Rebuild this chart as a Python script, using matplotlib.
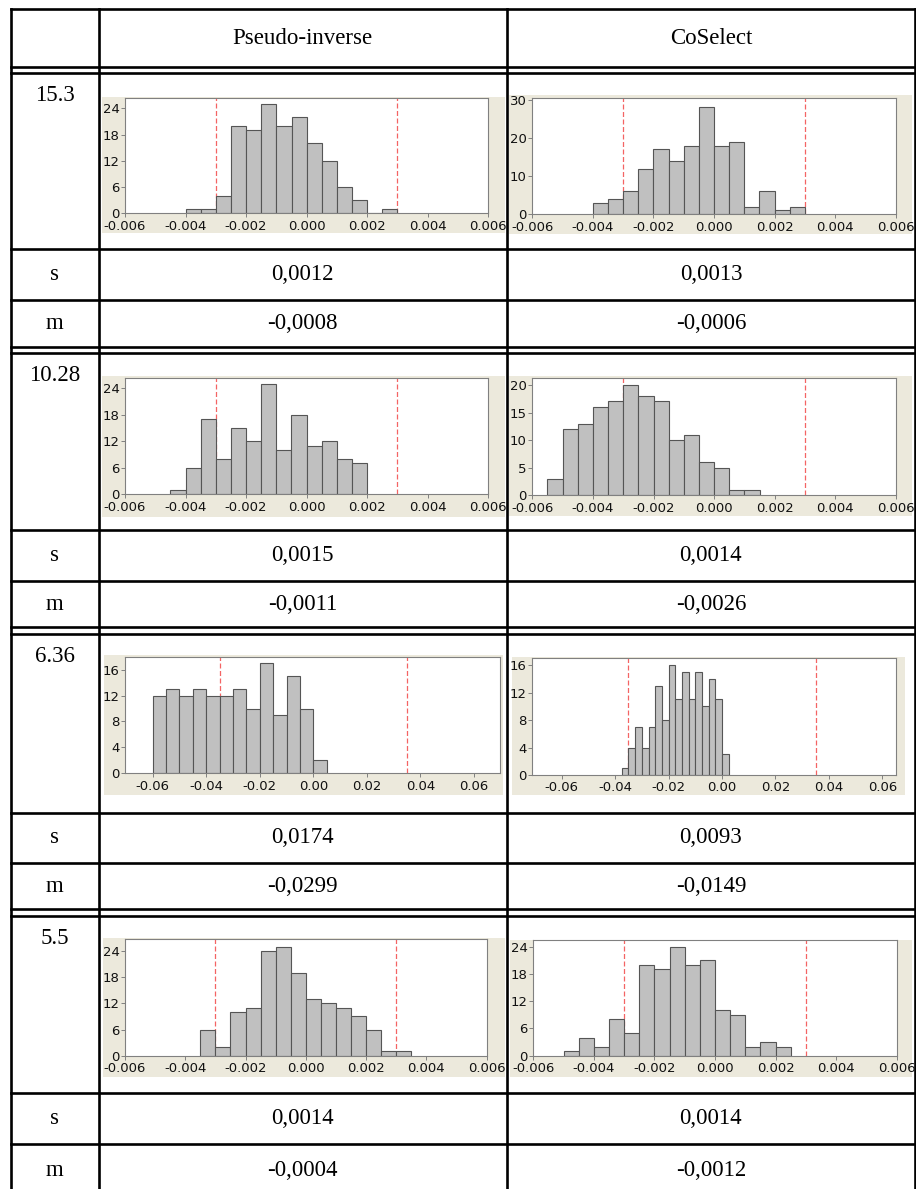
"""
Histogram comparison table: Pseudo-inverse vs CoSelect
"""

import matplotlib
matplotlib.use("Agg")
import matplotlib.pyplot as plt
from matplotlib.patches import Rectangle
import numpy as np

W, H, DPI = 916, 1189, 100

col_headers = ["Pseudo-inverse", "CoSelect"]
row_labels = ["15.3", "10.28", "6.36", "5.5"]
s_values = [["0,0012", "0,0013"], ["0,0015", "0,0014"],
            ["0,0174", "0,0093"], ["0,0014", "0,0014"]]
m_values = [["-0,0008", "-0,0006"], ["-0,0011", "-0,0026"],
            ["-0,0299", "-0,0149"], ["-0,0004", "-0,0012"]]

# histogram counts, first bin edge, bin width
pi_153_counts = [1, 1, 4, 20, 19, 25, 20, 22, 16, 12, 6, 3, 0, 1]
pi_153_start, pi_153_width = -0.004, 0.0005
cs_153_counts = [3, 4, 6, 12, 17, 14, 18, 28, 18, 19, 2, 6, 1, 2]
cs_153_start, cs_153_width = -0.004, 0.0005
pi_1028_counts = [1, 6, 17, 8, 15, 12, 25, 10, 18, 11, 12, 8, 7]
pi_1028_start, pi_1028_width = -0.0045, 0.0005
cs_1028_counts = [3, 12, 13, 16, 17, 20, 18, 17, 10, 11, 6, 5, 1, 1]
cs_1028_start, cs_1028_width = -0.0055, 0.0005
pi_636_counts = [12, 13, 12, 13, 12, 12, 13, 10, 17, 9, 15, 10, 2]
pi_636_start, pi_636_width = -0.06, 0.005
cs_636_counts = [1, 4, 7, 4, 7, 13, 8, 16, 11, 15, 11, 15, 10, 14, 11, 3]
cs_636_start, cs_636_width = -0.0375, 0.0025
pi_55_counts = [6, 2, 10, 11, 24, 25, 19, 13, 12, 11, 9, 6, 1, 1]
pi_55_start, pi_55_width = -0.0035, 0.0005
cs_55_counts = [1, 4, 2, 8, 5, 20, 19, 24, 20, 21, 10, 9, 2, 3, 2]
cs_55_start, cs_55_width = -0.005, 0.0005

limits_small = [-0.003, 0.003]
limits_large = [-0.035, 0.035]
xticks_small = [-0.006, -0.004, -0.002, 0.0, 0.002, 0.004, 0.006]
xticks_large = [-0.06, -0.04, -0.02, 0.0, 0.02, 0.04, 0.06]

BEIGE = "#ECE9DC"
BAR = "#C0C0C0"
BAR_EDGE = "#555555"
FRAME = "#808080"
LIMIT = "#F46464"
SERIF = "Liberation Serif"

fig = plt.figure(figsize=(W / DPI, H / DPI), dpi=DPI, facecolor="white")
base = fig.add_axes([0, 0, 1, 1], zorder=0)
base.set_xlim(0, W)
base.set_ylim(H, 0)
base.axis("off")


def px_rect(x0, y0, x1, y1):
    return [x0 / W, 1 - y1 / H, (x1 - x0) / W, (y1 - y0) / H]


def histogram(beige, frame, counts, start, width, limits, xlim, xticks, fmt,
              yticks, ymax):
    bx0, by0, bx1, by1 = beige
    base.add_patch(Rectangle((bx0, by0), bx1 - bx0, by1 - by0,
                             facecolor=BEIGE, edgecolor="none", zorder=1))
    ax = fig.add_axes(px_rect(*frame), zorder=2)
    ax.set_facecolor("white")
    edges = start + width * np.arange(len(counts))
    for lim in limits:
        ax.axvline(lim, color=LIMIT, linewidth=0.9, linestyle=(0, (4, 2)),
                   zorder=1)
    ax.bar(edges, counts, width=width, align="edge", color=BAR,
           edgecolor=BAR_EDGE, linewidth=0.8, zorder=2)
    ax.set_xlim(*xlim)
    ax.set_ylim(0, ymax)
    ax.set_xticks(xticks)
    ax.set_xticklabels([fmt % t for t in xticks])
    ax.set_yticks(yticks)
    ax.tick_params(length=3, width=0.7, color=FRAME, labelsize=9.5,
                   labelcolor="#111111", pad=1)
    ax.tick_params(axis="x", pad=1.5)
    for spine in ax.spines.values():
        spine.set_color(FRAME)
        spine.set_linewidth(0.8)
    return ax


# row 15.3
histogram((102, 97, 505, 233), (125, 98.3, 488.3, 213.3),
          pi_153_counts, pi_153_start, pi_153_width, limits_small,
          (-0.006, 0.006), xticks_small, "%.3f", [0, 6, 12, 18, 24], 26.3)
histogram((509, 95, 912, 234), (532.3, 98.3, 895.7, 214.3),
          cs_153_counts, cs_153_start, cs_153_width, limits_small,
          (-0.006, 0.006), xticks_small, "%.3f", [0, 10, 20, 30], 30.4)
# row 10.28
histogram((102, 376, 505, 517), (125, 378.3, 488, 494.3),
          pi_1028_counts, pi_1028_start, pi_1028_width, limits_small,
          (-0.006, 0.006), xticks_small, "%.3f", [0, 6, 12, 18, 24], 26.3)
histogram((509, 376, 912, 516), (532.3, 378.3, 896, 495.3),
          cs_1028_counts, cs_1028_start, cs_1028_width, limits_small,
          (-0.006, 0.006), xticks_small, "%.3f", [0, 5, 10, 15, 20], 21.2)
# row 6.36
histogram((104, 655, 503, 795), (125, 656.7, 500, 773.3),
          pi_636_counts, pi_636_start, pi_636_width, limits_large,
          (-0.0703, 0.0697), xticks_large, "%.2f", [0, 4, 8, 12, 16], 18.0)
histogram((512, 656.7, 905, 795), (532.3, 658.3, 895.7, 775),
          cs_636_counts, cs_636_start, cs_636_width, limits_large,
          (-0.071, 0.065), xticks_large, "%.2f", [0, 4, 8, 12, 16], 17.0)
# row 5.5
histogram((103, 938.3, 505, 1076.7), (125, 939.3, 486.7, 1055.7),
          pi_55_counts, pi_55_start, pi_55_width, limits_small,
          (-0.006, 0.006), xticks_small, "%.3f", [0, 6, 12, 18, 24], 26.7)
histogram((510, 940, 912, 1076.7), (533.3, 940, 896.7, 1055.7),
          cs_55_counts, cs_55_start, cs_55_width, limits_small,
          (-0.006, 0.006), xticks_small, "%.3f", [0, 6, 12, 18, 24], 25.5)

# table grid
LW = 1.9
x_left, x_c1, x_c2, x_right = 10.5, 99, 506.5, 915.3
single_rows = [9.3, 248.5, 299.5, 530, 580.7, 812.7, 862.7, 1093.3, 1144]
double_rows = [(67.3, 72.7), (346.7, 353.3), (627.3, 634), (909.3, 916)]
for y in single_rows:
    base.plot([x_left, x_right], [y, y], color="black", lw=LW, zorder=3,
              solid_capstyle="projecting")
for y1, y2 in double_rows:
    for y in (y1, y2):
        base.plot([x_left, x_right], [y, y], color="black", lw=LW, zorder=3,
                  solid_capstyle="projecting")
for x in (x_left, x_c1, x_c2, x_right):
    base.plot([x, x], [9.3, H + 5], color="black", lw=LW, zorder=3)

# texts
FS = 16.5
mid = [(x_c1 + x_c2) / 2, (x_c2 + x_right) / 2]
lab_x = (x_left + x_c1) / 2
for j, name in enumerate(col_headers):
    base.text(mid[j], 39, name, ha="center", va="center",
              fontsize=FS, family=SERIF)

hist_tops = [72.7, 353.3, 634, 916]
s_centers = [274, 555.5, 837.7, 1118.7]
m_centers = [323.1, 604, 886, 1170]
for i, lab in enumerate(row_labels):
    base.text(lab_x, hist_tops[i] + 12, lab, ha="center", va="top",
              fontsize=FS, family=SERIF)
    base.text(lab_x, s_centers[i], "s", ha="center", va="center",
              fontsize=FS, family=SERIF)
    base.text(lab_x, m_centers[i], "m", ha="center", va="center",
              fontsize=FS, family=SERIF)
    for j in range(2):
        base.text(mid[j], s_centers[i], s_values[i][j], ha="center",
                  va="center", fontsize=FS, family=SERIF)
        base.text(mid[j], m_centers[i], m_values[i][j], ha="center",
                  va="center", fontsize=FS, family=SERIF)

fig.savefig("out.png", dpi=DPI, facecolor="white")
plt.close(fig)
